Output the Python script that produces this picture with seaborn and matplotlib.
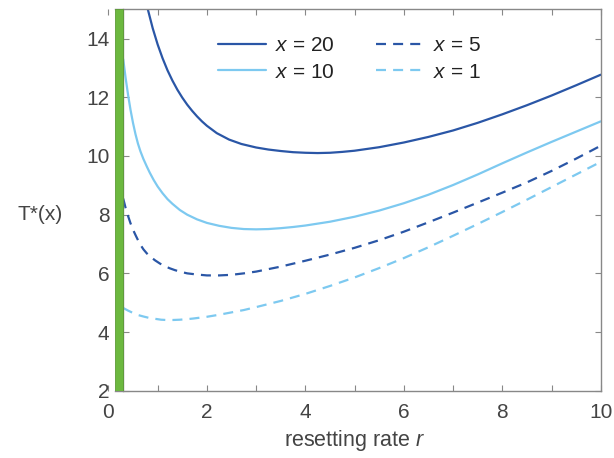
import matplotlib
matplotlib.use("Agg")
import matplotlib.pyplot as plt
import seaborn as sns

# values
r20 = [0.80, 0.90, 1.0, 1.1, 1.2, 1.3, 1.4, 1.5, 1.6, 1.7, 1.8, 1.9, 2.0, 2.2, 2.45, 2.7,
       3.0, 3.25, 3.5, 3.75, 4.0, 4.25, 4.5, 4.75, 5.0, 5.5, 6.0, 6.5, 7.0, 7.5, 8.0, 8.5,
       9.0, 9.5, 10.0]
t20 = [15.0, 14.35, 13.8, 13.33, 12.92, 12.57, 12.26, 11.99, 11.75, 11.54, 11.35, 11.18, 11.03,
       10.78, 10.56, 10.41, 10.29, 10.22, 10.17, 10.13, 10.11, 10.1, 10.11, 10.14, 10.18, 10.3,
       10.46, 10.65, 10.87, 11.13, 11.42, 11.73, 12.06, 12.41, 12.77]

r10 = [0.30, 0.35, 0.40, 0.45, 0.50, 0.55, 0.60, 0.65, 0.71, 0.78, 0.84, 0.92, 1.0, 1.1, 1.2,
       1.3, 1.45, 1.6, 1.8, 2.0, 2.25, 2.5, 2.75, 3.0, 3.25, 3.5, 3.75, 4.0, 4.5, 5.0, 5.5, 6.0,
       6.5, 7.0, 7.5, 8.0, 8.5, 9.0, 9.5, 10.0]
t10 = [13.3, 12.65, 12.07, 11.56, 11.12, 10.74, 10.42, 10.16, 9.9, 9.64, 9.43, 9.18, 8.96, 8.73,
       8.53, 8.37, 8.16, 8.0, 7.84, 7.72, 7.62, 7.55, 7.51, 7.5, 7.51, 7.54, 7.58, 7.63, 7.76,
       7.93, 8.14, 8.39, 8.68, 9.01, 9.37, 9.75, 10.12, 10.48, 10.83, 11.18]

r5 = [0.30, 0.35, 0.40, 0.45, 0.51, 0.56, 0.61, 0.66, 0.71, 0.78, 0.85, 0.95, 1.05, 1.15, 1.25,
      1.35, 1.45, 1.6, 1.8, 2.0, 2.25, 2.5, 2.75, 3.0, 3.5, 4.0, 4.5, 5.0, 5.5, 6.0, 6.5, 7.0,
      7.5, 8.0, 8.5, 9.0, 9.5, 10.0]
t5 = [8.55, 8.22, 7.95, 7.7, 7.45, 7.27, 7.1, 6.95, 6.82, 6.68, 6.57, 6.44, 6.33, 6.24, 6.17,
      6.11, 6.06, 6.0, 5.96, 5.93, 5.93, 5.95, 6.0, 6.06, 6.23, 6.43, 6.64, 6.87, 7.13, 7.42,
      7.74, 8.07, 8.41, 8.75, 9.1, 9.49, 9.91, 10.35]

r1 = [0.30, 0.4, 0.5, 0.6, 0.71, 0.83, 0.95, 1.07, 1.18, 1.3, 1.45, 1.6, 1.72, 2.0, 2.25, 2.5,
      2.75, 3.0, 3.5, 4.0, 4.5, 5.0, 5.5, 6.0, 6.5, 7.0, 7.5, 8.0, 8.5, 9.0, 9.5, 10.0]
t1 = [4.82, 4.73, 4.65, 4.58, 4.53, 4.48, 4.45, 4.42, 4.41, 4.41, 4.42, 4.44, 4.46, 4.52, 4.59,
      4.67, 4.75, 4.85, 5.06, 5.3, 5.57, 5.86, 6.18, 6.52, 6.89, 7.28, 7.68, 8.09, 8.51, 8.94,
      9.37, 9.8]

labels = ["$x$ = 20", "$x$ = 10", "$x$ = 5", "$x$ = 1"]
dark = "#2a56a6"
light = "#7dc9f0"
grey = "#444444"

sns.set_style("ticks")
plt.rcParams['font.family'] = ['Liberation Sans', 'DejaVu Sans']
plt.rcParams['mathtext.fontset'] = 'custom'
plt.rcParams['mathtext.rm'] = 'Liberation Sans'
plt.rcParams['mathtext.it'] = 'Liberation Sans:italic'

fig = plt.figure(figsize=(6.14, 4.58), dpi=100)
ax = fig.add_axes([0.1766, 0.1469, 0.8018, 0.8328])

lw = 1.6
sns.lineplot(x=r20, y=t20, ax=ax, color=dark, lw=lw, label=labels[0])
sns.lineplot(x=r10, y=t10, ax=ax, color=light, lw=lw, label=labels[1])
sns.lineplot(x=r5, y=t5, ax=ax, color=dark, lw=lw, linestyle=(0, (4.5, 3.2)), label=labels[2])
sns.lineplot(x=r1, y=t1, ax=ax, color=light, lw=lw, linestyle=(0, (4.5, 3.2)), label=labels[3])

# green strip at small r
ax.axvspan(0.14, 0.30, color="#6cb83f", ec="#5c9a36", lw=0.6, zorder=3)

ax.set_xlim(0, 10)
ax.set_ylim(2, 15)
ax.spines['left'].set_position(('data', 0.30))
ax.spines['bottom'].set_bounds(0.14, 10)
ax.spines['top'].set_bounds(0.14, 10)
for s in ax.spines.values():
    s.set_color("#888888")
    s.set_linewidth(1.0)

ax.set_xticks(range(0, 11, 2))
ax.set_xticks(range(1, 11, 2), minor=True)
ax.set_yticks(range(2, 15, 2))
ax.tick_params(which='both', direction='in', length=4, width=0.8, color="#888888",
               top=True, right=True, labelsize=15, labelcolor=grey)
ax.tick_params(axis='x', which='both', pad=9)
ax.tick_params(axis='y', pad=10)

ax.set_xlabel("resetting rate $r$", fontsize=15.5, color=grey, labelpad=4)
ax.set_ylabel("T*(x)", fontsize=15, color=grey, rotation=0, ha='center', va='center')
ax.yaxis.set_label_coords(-0.139, 0.463)

leg = ax.legend(ncol=2, frameon=False, loc='upper left', bbox_to_anchor=(0.205, 0.951),
                fontsize=15, handlelength=2.3, handletextpad=0.45, columnspacing=2.0,
                labelspacing=0.35, borderaxespad=0)
for t in leg.get_texts():
    t.set_color("#222222")

fig.savefig("out.png", dpi=100)
